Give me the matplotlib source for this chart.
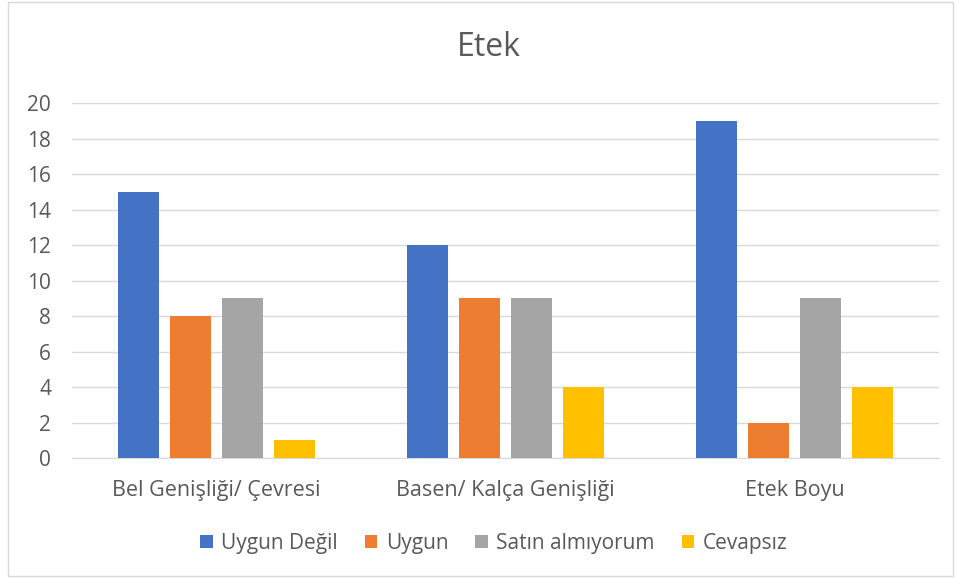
# plot.py
#       Grouped bar chart for "Etek" survey answers

import matplotlib.pyplot as plt
from matplotlib.patches import Rectangle
import numpy as np

plt.rcParams['font.family'] = ['Open Sans', 'DejaVu Sans']

categories = ['Bel Genişliği/ Çevresi', 'Basen/ Kalça Genişliği', 'Etek Boyu']
series_names = ['Uygun Değil', 'Uygun', 'Satın almıyorum', 'Cevapsız']
uygun_degil = [15, 12, 19]
uygun = [8, 9, 2]
satin_almiyorum = [9, 9, 9]
cevapsiz = [1, 4, 4]
yticks = [0, 2, 4, 6, 8, 10, 12, 14, 16, 18, 20]

colors = ['#4472C4', '#ED7D31', '#A5A5A5', '#FFC000']
values = [uygun_degil, uygun, satin_almiyorum, cevapsiz]

fig = plt.figure(figsize=(9.55, 5.78), dpi=100)
ax = fig.add_axes([0.0754, 0.2076, 0.908, 0.6142])

# chart border
fig.patches.append(Rectangle((0.008, 0.004), 0.99, 0.992, transform=fig.transFigure,
                             fill=False, edgecolor='#D9D9D9', linewidth=1))

x = np.arange(len(categories))
width = 0.142
pitch = 0.18
for i in range(len(values)):
        offs = (i - 1.5) * pitch
        ax.bar(x + offs, values[i], width, color=colors[i], label=series_names[i], zorder=3)

ax.set_xlim(-0.5, 2.5)
ax.set_ylim(0, 20)
ax.set_yticks(yticks)
ax.set_xticks(x)
ax.set_xticklabels(categories)
ax.yaxis.grid(True, color='#D9D9D9', linewidth=1, zorder=0)
ax.tick_params(axis='both', length=0, labelcolor='#595959')
ax.tick_params(axis='x', pad=16, labelsize=15.5)
ax.tick_params(axis='y', pad=15, labelsize=15)
for s in ['top', 'right', 'left']:
        ax.spines[s].set_visible(False)
ax.spines['bottom'].set_color('#D9D9D9')

fig.text(0.512, 0.917, 'Etek', ha='center', va='center', fontsize=23, color='#595959')

fig.legend(loc='center', bbox_to_anchor=(0.517, 0.06), ncol=4, frameon=False,
           fontsize=15, labelcolor='#595959', handlelength=0.6, handleheight=0.6,
           handletextpad=0.4, columnspacing=1.3)

fig.savefig('out.png', dpi=100)
